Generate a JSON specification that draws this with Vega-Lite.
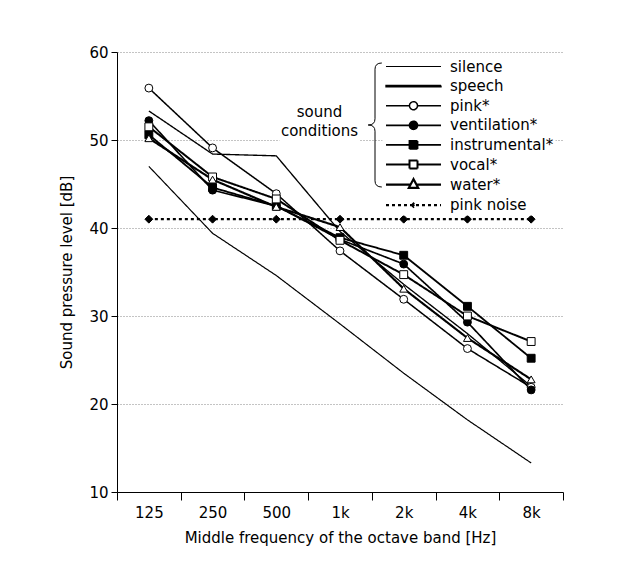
{
  "$schema": "https://vega.github.io/schema/vega-lite/v6.json",
  "width": 446,
  "height": 440,
  "autosize": {"type": "none"},
  "padding": {"left": 117, "top": 52, "right": 54, "bottom": 72},
  "background": "white",
  "data": {
    "values": [
      {"cond": "silence", "freq": 125, "spl": 47.0},
      {"cond": "silence", "freq": 250, "spl": 39.4},
      {"cond": "silence", "freq": 500, "spl": 34.6},
      {"cond": "silence", "freq": 1000, "spl": 29.1},
      {"cond": "silence", "freq": 2000, "spl": 23.5},
      {"cond": "silence", "freq": 4000, "spl": 18.2},
      {"cond": "silence", "freq": 8000, "spl": 13.3},
      {"cond": "speech", "freq": 125, "spl": 53.3},
      {"cond": "speech", "freq": 250, "spl": 48.4},
      {"cond": "speech", "freq": 500, "spl": 48.2},
      {"cond": "speech", "freq": 1000, "spl": 39.6},
      {"cond": "speech", "freq": 2000, "spl": 33.6},
      {"cond": "speech", "freq": 4000, "spl": 28.0},
      {"cond": "speech", "freq": 8000, "spl": 22.0},
      {"cond": "pink*", "freq": 125, "spl": 55.9},
      {"cond": "pink*", "freq": 250, "spl": 49.1},
      {"cond": "pink*", "freq": 500, "spl": 43.9},
      {"cond": "pink*", "freq": 1000, "spl": 37.4},
      {"cond": "pink*", "freq": 2000, "spl": 31.9},
      {"cond": "pink*", "freq": 4000, "spl": 26.3},
      {"cond": "pink*", "freq": 8000, "spl": 21.9},
      {"cond": "ventilation*", "freq": 125, "spl": 52.2},
      {"cond": "ventilation*", "freq": 250, "spl": 44.3},
      {"cond": "ventilation*", "freq": 500, "spl": 42.5},
      {"cond": "ventilation*", "freq": 1000, "spl": 38.7},
      {"cond": "ventilation*", "freq": 2000, "spl": 35.9},
      {"cond": "ventilation*", "freq": 4000, "spl": 29.3},
      {"cond": "ventilation*", "freq": 8000, "spl": 21.6},
      {"cond": "instrumental*", "freq": 125, "spl": 50.6},
      {"cond": "instrumental*", "freq": 250, "spl": 44.6},
      {"cond": "instrumental*", "freq": 500, "spl": 42.5},
      {"cond": "instrumental*", "freq": 1000, "spl": 38.9},
      {"cond": "instrumental*", "freq": 2000, "spl": 36.9},
      {"cond": "instrumental*", "freq": 4000, "spl": 31.1},
      {"cond": "instrumental*", "freq": 8000, "spl": 25.2},
      {"cond": "vocal*", "freq": 125, "spl": 51.5},
      {"cond": "vocal*", "freq": 250, "spl": 45.8},
      {"cond": "vocal*", "freq": 500, "spl": 43.3},
      {"cond": "vocal*", "freq": 1000, "spl": 38.6},
      {"cond": "vocal*", "freq": 2000, "spl": 34.7},
      {"cond": "vocal*", "freq": 4000, "spl": 30.0},
      {"cond": "vocal*", "freq": 8000, "spl": 27.1},
      {"cond": "water*", "freq": 125, "spl": 50.2},
      {"cond": "water*", "freq": 250, "spl": 45.5},
      {"cond": "water*", "freq": 500, "spl": 42.4},
      {"cond": "water*", "freq": 1000, "spl": 40.1},
      {"cond": "water*", "freq": 2000, "spl": 33.1},
      {"cond": "water*", "freq": 4000, "spl": 27.5},
      {"cond": "water*", "freq": 8000, "spl": 22.8},
      {"cond": "pink noise", "freq": 125, "spl": 41.0},
      {"cond": "pink noise", "freq": 250, "spl": 41.0},
      {"cond": "pink noise", "freq": 500, "spl": 41.0},
      {"cond": "pink noise", "freq": 1000, "spl": 41.0},
      {"cond": "pink noise", "freq": 2000, "spl": 41.0},
      {"cond": "pink noise", "freq": 4000, "spl": 41.0},
      {"cond": "pink noise", "freq": 8000, "spl": 41.0}
    ]
  },
  "encoding": {
    "x": {
      "field": "freq",
      "type": "quantitative",
      "scale": {"type": "log", "base": 2, "domain": [88.388, 11313.708], "nice": false, "zero": false},
      "axis": {
        "title": "Middle frequency of the octave band [Hz]",
        "values": [88.388, 125, 176.777, 250, 353.553, 500, 707.107, 1000, 1414.214, 2000, 2828.427, 4000, 5656.854, 8000, 11313.708],
        "labelExpr": "datum.value == 125 ? '125' : datum.value == 250 ? '250' : datum.value == 500 ? '500' : datum.value == 1000 ? '1k' : datum.value == 2000 ? '2k' : datum.value == 4000 ? '4k' : datum.value == 8000 ? '8k' : ''",
        "tickOpacity": {"condition": {"test": "indexof([125,250,500,1000,2000,4000,8000], datum.value) >= 0", "value": 0}, "value": 1},
        "tickSize": 8,
        "labelPadding": 5,
        "labelFlush": false,
        "labelOverlap": false,
        "titlePadding": 10,
        "grid": false
      }
    },
    "y": {
      "field": "spl",
      "type": "quantitative",
      "scale": {"domain": [10, 60], "nice": false, "zero": false},
      "axis": {
        "title": "Sound pressure level [dB]",
        "values": [10, 20, 30, 40, 50, 60],
        "tickSize": 6,
        "labelPadding": 3,
        "titlePadding": 14,
        "grid": true,
        "gridDash": [1, 2],
        "gridColor": "#888888",
        "gridWidth": 1
      }
    }
  },
  "layer": [
    {
      "mark": {"type": "line"},
      "encoding": {
        "color": {
          "field": "cond",
          "type": "nominal",
          "scale": {
            "domain": ["silence", "speech", "pink*", "ventilation*", "instrumental*", "vocal*", "water*", "pink noise"],
            "range": ["black", "black", "black", "black", "black", "black", "black", "black"]
          },
          "legend": {
            "title": null,
            "orient": "none",
            "legendX": 265.5,
            "legendY": 1.5,
            "padding": 2,
            "fillColor": "white",
            "rowPadding": 0.6,
            "symbolSize": 400,
            "symbolStrokeWidth": 1,
            "symbolOffset": 17.5,
            "labelOffset": 25,
            "labelFontSize": 15,
            "labelColor": "black",
            "labelFont": "DejaVu Sans",
            "encode": {
              "symbols": {
                "update": {
                  "shape": {"signal": "datum.value === 'silence' ? 'M-2.75,0H2.75' : datum.value === 'speech' ? 'M-2.75,-0.06H2.75V0.06H-2.75Z' : (datum.value === 'pink*' || datum.value === 'ventilation*') ? 'M-2.75,0H-0.4M0.4,0H2.75M-0.4,0A0.4,0.4 0 1,1 0.4,0A0.4,0.4 0 1,1 -0.4,0Z' : (datum.value === 'instrumental*' || datum.value === 'vocal*') ? 'M-2.75,0H-0.4M0.4,0H2.75M-0.4,-0.4H0.4V0.4H-0.4Z' : datum.value === 'water*' ? 'M-2.75,0H-0.294M0.294,0H2.75M0,-0.55L0.47,0.33H-0.47Z' : 'M-2.75,0H2.75M-0.15,0L0,-0.15L0.15,0L0,0.15Z'"},
                  "fill": {"signal": "indexof(['speech','ventilation*','instrumental*','pink noise'], datum.value) >= 0 ? 'black' : datum.value === 'silence' ? 'transparent' : 'white'"},
                  "stroke": {"value": "black"},
                  "strokeWidth": {"value": 1},
                  "strokeDash": {"signal": "datum.value === 'pink noise' ? [2,2] : [1,0]"},
                  "size": {"value": 400},
                  "opacity": {"value": 1}
                }
              }
            }
          }
        },
        "strokeWidth": {
          "field": "cond",
          "type": "nominal",
          "scale": {
            "domain": ["silence", "speech", "pink*", "ventilation*", "instrumental*", "vocal*", "water*", "pink noise"],
            "range": [1.2, 2.3, 1, 1, 1, 1, 1, 1.2]
          },
          "legend": null
        },
        "strokeDash": {
          "field": "cond",
          "type": "nominal",
          "scale": {
            "domain": ["silence", "speech", "pink*", "ventilation*", "instrumental*", "vocal*", "water*", "pink noise"],
            "range": [[1, 0], [1, 0], [1, 0], [1, 0], [1, 0], [1, 0], [1, 0], [3, 3]]
          },
          "legend": null
        },
        "opacity": {
          "datum": "sound conditions",
          "type": "nominal",
          "scale": {"range": [1]},
          "legend": {
            "title": ["sound", "conditions"],
            "orient": "none",
            "legendX": 162.5,
            "legendY": 52,
            "padding": 1,
            "fillColor": "white",
            "titleFontSize": 15,
            "titleFontWeight": "normal",
            "titleFont": "DejaVu Sans",
            "titleColor": "black",
            "titleAnchor": "middle",
            "titleAlign": "center",
            "titleLineHeight": 19,
            "titlePadding": 0,
            "symbolOpacity": 0,
            "symbolSize": 0,
            "symbolStrokeWidth": 0,
            "labelExpr": "''",
            "labelFontSize": 1,
            "rowPadding": 0
          }
        }
      }
    },
    {
      "transform": [{"filter": "datum.cond !== 'silence' && datum.cond !== 'speech'"}],
      "mark": {"type": "point", "filled": true, "strokeWidth": 1, "opacity": 1},
      "encoding": {
        "shape": {
          "field": "cond",
          "type": "nominal",
          "scale": {
            "domain": ["pink*", "ventilation*", "instrumental*", "vocal*", "water*", "pink noise"],
            "range": ["circle", "circle", "square", "square", "triangle-up", "diamond"]
          },
          "legend": null
        },
        "fill": {
          "field": "cond",
          "type": "nominal",
          "scale": {
            "domain": ["pink*", "ventilation*", "instrumental*", "vocal*", "water*", "pink noise"],
            "range": ["white", "black", "black", "white", "white", "black"]
          },
          "legend": null
        },
        "size": {
          "field": "cond",
          "type": "nominal",
          "scale": {
            "domain": ["pink*", "ventilation*", "instrumental*", "vocal*", "water*", "pink noise"],
            "range": [62, 62, 60, 60, 68, 10]
          },
          "legend": null
        },
        "stroke": {
          "datum": "brace",
          "type": "nominal",
          "scale": {"range": ["black"]},
          "legend": {
            "title": null,
            "orient": "none",
            "legendX": 251,
            "legendY": 10.5,
            "padding": 0,
            "symbolType": "M0.11,-1Q0,-1 0,-0.9V-0.1Q0,0 -0.11,0Q0,0 0,0.1V0.9Q0,1 0.11,1",
            "symbolSize": 15376,
            "symbolOffset": -55.5,
            "symbolFillColor": "transparent",
            "symbolStrokeColor": "black",
            "symbolStrokeWidth": 1,
            "symbolOpacity": 1,
            "labelExpr": "''",
            "labelFontSize": 1,
            "encode": {
              "symbols": {
                "update": {
                  "shape": {"value": "M0.11,-1Q0,-1 0,-0.9V-0.1Q0,0 -0.11,0Q0,0 0,0.1V0.9Q0,1 0.11,1"},
                  "fill": {"value": "transparent"},
                  "stroke": {"value": "black"},
                  "strokeWidth": {"value": 1},
                  "size": {"value": 15376},
                  "opacity": {"value": 1}
                }
              }
            }
          }
        }
      }
    }
  ],
  "config": {
    "font": "DejaVu Sans",
    "view": {"stroke": null},
    "axis": {
      "labelFont": "DejaVu Sans",
      "titleFont": "DejaVu Sans",
      "labelFontSize": 15,
      "titleFontSize": 15,
      "titleFontWeight": "normal",
      "labelColor": "black",
      "titleColor": "black",
      "domainColor": "black",
      "tickColor": "black",
      "domainWidth": 1,
      "tickWidth": 1
    }
  }
}
